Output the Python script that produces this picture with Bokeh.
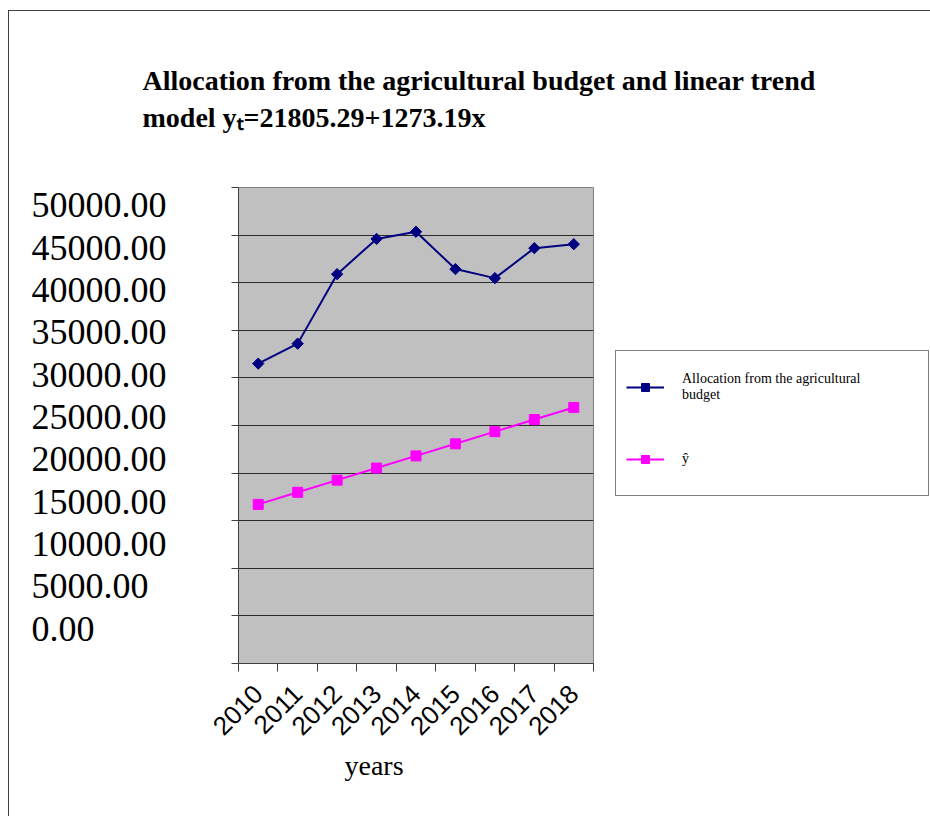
import math
from bokeh.plotting import figure
from bokeh.models import (Range1d, FactorRange, LinearAxis, CategoricalAxis, FixedTicker,
                          Legend, LegendItem)
from bokeh.embed import file_html
from bokeh.resources import INLINE

# ---- data ----
years = ["2010", "2011", "2012", "2013", "2014", "2015", "2016", "2017", "2018"]
allocation = [31500, 33600, 40900, 44600, 45350, 41430, 40480, 43630, 44050]
trend = [16712, 17985, 19259, 20532, 21805, 23078, 24352, 25625, 26898]
y_ticks = [0, 5000, 10000, 15000, 20000, 25000, 30000, 35000, 40000, 45000, 50000]
y_tick_labels = ["0.00", "5000.00", "10000.00", "15000.00", "20000.00", "25000.00",
                 "30000.00", "35000.00", "40000.00", "45000.00", "50000.00"]
series_names = ["Allocation from the agricultural\nbudget", "\u0177"]
title_text = "Allocation from the agricultural budget and linear trend\nmodel  y\u209c=21805.29+1273.19x"
x_label = "years"

SERIF = "Liberation Serif"
FIG_SP = "\u2007"  # figure space (digit width) -> left-aligned tick labels

p = figure(x_range=FactorRange(factors=years, range_padding=0),
           y_range=Range1d(0, 50000),
           frame_width=355, frame_height=476,
           min_border_left=229, min_border_right=337,
           min_border_top=176, min_border_bottom=153,
           x_axis_location=None,
           output_backend="svg", toolbar_location=None,
           title=title_text)
p.styles = {"margin-left": "8px", "margin-top": "10px", "border": "1px solid #404040"}

p.extra_y_ranges = {"lab": Range1d(-4134, 52091)}

p.background_fill_color = "#C0C0C0"
p.border_fill_color = "white"
p.outline_line_color = "#808080"
p.outline_line_width = 1

# title
p.title.align = "left"
p.title.vertical_align = "top"
p.title.offset = -96
p.title.text_font = SERIF
p.title.text_font_style = "bold"
p.title.text_font_size = "28px"
p.title.text_line_height = 1.2
p.title.standoff = 106
p.title.text_color = "black"

# y axis: ticks only
yticker = FixedTicker(ticks=y_ticks)
p.yaxis.ticker = yticker
p.yaxis.major_tick_out = 7
p.yaxis.major_tick_in = 0
p.yaxis.minor_tick_line_color = None
p.yaxis.major_label_text_font_size = "1px"
p.yaxis.major_label_text_color = None
p.yaxis.major_label_standoff = 0
p.yaxis.axis_line_color = "#404040"
p.yaxis.major_tick_line_color = "#404040"
p.ygrid.ticker = yticker
p.ygrid.grid_line_color = "#2a2a2a"
p.ygrid.grid_line_width = 1
p.xgrid.grid_line_color = None

# y tick labels: separate axis on its own (offset) range, as in the original
maxlen = max(len(s) for s in y_tick_labels)
label_axis = LinearAxis(y_range_name="lab", ticker=FixedTicker(ticks=y_ticks),
                        major_label_overrides={v: s + FIG_SP * (maxlen - len(s))
                                               for v, s in zip(y_ticks, y_tick_labels)},
                        major_tick_out=0, major_tick_in=0, major_tick_line_color=None,
                        minor_tick_line_color=None, axis_line_color=None,
                        major_label_standoff=65,
                        major_label_text_font=SERIF, major_label_text_font_size="36px",
                        major_label_text_color="black")
p.add_layout(label_axis, "left")

# x axis: tick marks at category boundaries (synthetic coordinates 0..9)
tick_axis = LinearAxis(ticker=FixedTicker(ticks=list(range(len(years) + 1))),
                       major_tick_out=8, major_tick_in=0, minor_tick_line_color=None,
                       major_label_text_font_size="1px", major_label_text_color=None,
                       major_label_standoff=0,
                       axis_line_color="#404040", major_tick_line_color="#404040")
p.add_layout(tick_axis, "below")
cat_axis = CategoricalAxis(major_tick_line_color=None, axis_line_color=None,
                           major_label_orientation=math.pi / 4,
                           major_label_text_font="Liberation Sans",
                           major_label_text_font_size="26px",
                           major_label_text_color="black",
                           major_label_standoff=12,
                           axis_label=x_label + FIG_SP * 6,
                           axis_label_text_font=SERIF,
                           axis_label_text_font_size="28px",
                           axis_label_text_font_style="normal",
                           axis_label_text_color="black",
                           axis_label_standoff=4)
p.add_layout(cat_axis, "below")

# series
l1 = p.line(years, allocation, line_color="#000080", line_width=2)
s1 = p.scatter(years, allocation, marker="square", angle=math.pi / 4, size=8,
               fill_color="#000080", line_color="#000080")
l2 = p.line(years, trend, line_color="#FF00FF", line_width=2)
s2 = p.scatter(years, trend, marker="square", size=10,
               fill_color="#FF00FF", line_color="#FF00FF")

legend = Legend(items=[LegendItem(label=series_names[0], renderers=[l1, s1]),
                       LegendItem(label=series_names[1], renderers=[l2, s2])],
                location=(22, 167), margin=0, padding=10,
                glyph_width=38, glyph_height=20, label_standoff=18,
                label_width=236, label_height=52, spacing=20,
                label_text_font=SERIF, label_text_font_size="14px",
                label_text_line_height=1.5, label_text_color="black",
                border_line_color="black", border_line_width=1,
                background_fill_color="white", background_fill_alpha=1)
p.add_layout(legend, "right")

open("out.html", "w").write(file_html(p, INLINE))
